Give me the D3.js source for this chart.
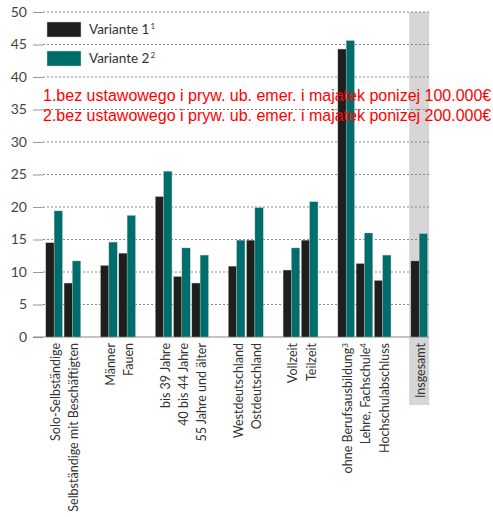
<!DOCTYPE html>
<html><head><meta charset="utf-8">
<script src="https://cdn.jsdelivr.net/npm/d3@7"></script>
<style>body{margin:0;background:#fff}svg{display:block}</style>
</head><body>
<svg id="c" width="493" height="517"></svg>
<script>
const categories = ["Solo-Selbständige","Selbständige mit Beschäftigten","_g1","Männer","Fauen","_g2","bis 39 Jahre","40 bis 44 Jahre","55 Jahre und älter","_g3","Westdeutschland","Ostdeutschland","_g4","Vollzeit","Teilzeit","_g5","ohne Berufsausbildung","Lehre, Fachschule","Hochschulabschluss","_g6","Insgesamt"];
const labelSup = {"ohne Berufsausbildung":"3","Lehre, Fachschule":"4"};
const variante1 = [14.5,8.3,null,11.0,12.9,null,21.6,9.3,8.3,null,10.9,14.9,null,10.3,14.9,null,44.3,11.3,8.7,null,11.7];
const variante2 = [19.4,11.7,null,14.6,18.7,null,25.5,13.7,12.6,null,14.9,19.9,null,13.7,20.8,null,45.6,16.0,12.6,null,15.9];
const seriesNames = ["Variante 1","Variante 2"];
const seriesSup = ["1","2"];
const yTicks = [0,5,10,15,20,25,30,35,40,45,50];
const notes = ["1.bez ustawowego i pryw. ub. emer. i majatek ponizej 100.000€","2.bez ustawowego i pryw. ub. emer. i majatek ponizej 200.000€"];

const colors = ["#1e1e1c","#006d6d"];
const svg = d3.select("#c");
const font = "Lato, sans-serif";
const x0 = 43, x1 = 429;
const y = d3.scaleLinear().domain([0,50]).range([337,12]);
const xb = d3.scaleBand().domain(categories).range([45,428.3]).paddingInner(0.09).paddingOuter(0.045);
const xs = d3.scaleBand().domain([0,1]).range([0,xb.bandwidth()]);

const ins = "Insgesamt";
svg.append("rect").attr("x", xb(ins)+xb.bandwidth()/2-10).attr("width",20)
  .attr("y", y(50)).attr("height", 405-y(50)).attr("fill","#d6d6d6");

const g = svg.append("g");
yTicks.forEach(t=>{
  if(t>0){
    g.append("line").attr("x1",x0).attr("x2",x1).attr("y1",y(t)).attr("y2",y(t))
     .attr("stroke","#888").attr("stroke-width",1).attr("stroke-dasharray","2,2");
  }
});
const yAxis = d3.axisLeft(y).tickValues(yTicks).tickSize(10).tickPadding(6);
const ag = svg.append("g").attr("transform",`translate(${x0},0)`).call(yAxis);
ag.select(".domain").remove();
ag.selectAll(".tick line").attr("stroke","#999");
ag.selectAll(".tick text").attr("font-family",font).attr("font-size",14).attr("fill","#444");
svg.append("line").attr("x1",33).attr("x2",x1).attr("y1",y(0)).attr("y2",y(0)).attr("stroke","#888");

[variante1,variante2].forEach((vals,si)=>{
  svg.append("g").selectAll("rect").data(categories.map((c,i)=>({c,v:vals[i]})).filter(d=>d.v!=null))
   .join("rect")
   .attr("x",d=>xb(d.c)+xs(si)).attr("width",xs.bandwidth())
   .attr("y",d=>y(d.v)).attr("height",d=>y(0)-y(d.v))
   .attr("fill",colors[si]).attr("stroke","#bbb").attr("stroke-width",0.4);
});

const lg = svg.append("g");
categories.filter(c=>!c.startsWith("_")).forEach(c=>{
  const cx = xb(c)+xb.bandwidth()/2+1.5;
  const t = lg.append("text").attr("transform",`translate(${cx},343) rotate(-90)`)
    .attr("text-anchor","end").attr("dy","0.35em")
    .attr("font-family",font).attr("font-size",12.5).attr("fill","#333").text(c);
  if(labelSup[c]) t.append("tspan").attr("font-size",8).attr("dy","-0.5em").text(labelSup[c]);
});

seriesNames.forEach((s,i)=>{
  const ly = 22 + i*29;
  svg.append("rect").attr("x",47).attr("y",ly).attr("width",34).attr("height",15)
    .attr("fill",colors[i]).attr("stroke","#ccc").attr("stroke-width",0.5);
  const t = svg.append("text").attr("x",89).attr("y",ly+12).attr("font-family",font)
    .attr("font-size",13.5).attr("fill","#333").text(s);
  t.append("tspan").attr("font-size",8).attr("dy","-0.6em").attr("dx",1).text(seriesSup[i]);
});

notes.forEach((n,i)=>{
  svg.append("text").attr("x",43).attr("y",101+i*20).attr("font-family","'Liberation Sans', Arial, sans-serif")
   .attr("font-size",16).attr("fill","#ff0000").text(n);
});
</script>
</body></html>
